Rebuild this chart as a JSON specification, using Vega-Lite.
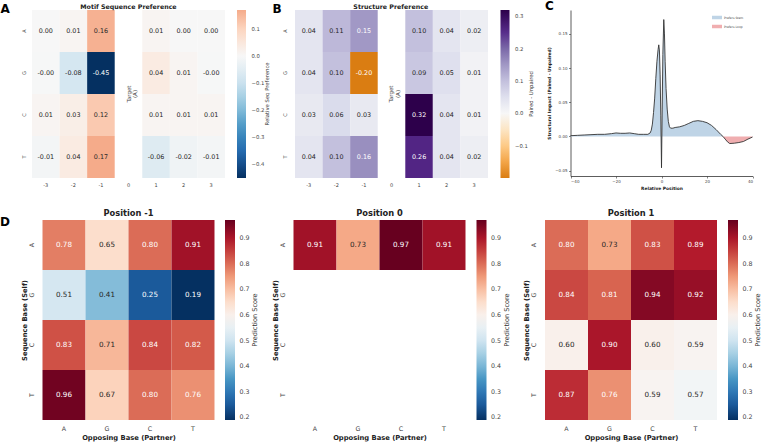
{
  "$schema": "https://vega.github.io/schema/vega-lite/v6.json",
  "background": "white",
  "padding": {"left": 0, "top": 0, "right": 0, "bottom": 0},
  "title": {"text": "D", "orient": "bottom", "anchor": "start", "frame": "bounds", "baseline": "top", "offset": -224, "fontSize": 12, "fontWeight": "bold", "color": "#000"},
  "columns": 3,
  "spacing": {"row": 42, "column": 56.5},
  "bounds": "flush",
  "resolve": {
    "scale": {"x": "independent", "y": "independent", "color": "independent"},
    "legend": {"color": "independent"}
  },
  "datasets": {
    "motif": [
      {"base": "A", "pos": "-3", "v": 0.00, "txt": "0.00"},
      {"base": "A", "pos": "-2", "v": 0.01, "txt": "0.01"},
      {"base": "A", "pos": "-1", "v": 0.16, "txt": "0.16"},
      {"base": "A", "pos": "1", "v": 0.01, "txt": "0.01"},
      {"base": "A", "pos": "2", "v": 0.00, "txt": "0.00"},
      {"base": "A", "pos": "3", "v": 0.00, "txt": "0.00"},
      {"base": "G", "pos": "-3", "v": -0.002, "txt": "-0.00"},
      {"base": "G", "pos": "-2", "v": -0.08, "txt": "-0.08"},
      {"base": "G", "pos": "-1", "v": -0.45, "txt": "-0.45"},
      {"base": "G", "pos": "1", "v": 0.04, "txt": "0.04"},
      {"base": "G", "pos": "2", "v": 0.01, "txt": "0.01"},
      {"base": "G", "pos": "3", "v": -0.002, "txt": "-0.00"},
      {"base": "C", "pos": "-3", "v": 0.01, "txt": "0.01"},
      {"base": "C", "pos": "-2", "v": 0.03, "txt": "0.03"},
      {"base": "C", "pos": "-1", "v": 0.12, "txt": "0.12"},
      {"base": "C", "pos": "1", "v": 0.01, "txt": "0.01"},
      {"base": "C", "pos": "2", "v": 0.01, "txt": "0.01"},
      {"base": "C", "pos": "3", "v": 0.01, "txt": "0.01"},
      {"base": "T", "pos": "-3", "v": -0.01, "txt": "-0.01"},
      {"base": "T", "pos": "-2", "v": 0.04, "txt": "0.04"},
      {"base": "T", "pos": "-1", "v": 0.17, "txt": "0.17"},
      {"base": "T", "pos": "1", "v": -0.06, "txt": "-0.06"},
      {"base": "T", "pos": "2", "v": -0.02, "txt": "-0.02"},
      {"base": "T", "pos": "3", "v": -0.01, "txt": "-0.01"}
    ],
    "structure": [
      {"base": "A", "pos": "-3", "v": 0.04, "txt": "0.04"},
      {"base": "A", "pos": "-2", "v": 0.11, "txt": "0.11"},
      {"base": "A", "pos": "-1", "v": 0.15, "txt": "0.15"},
      {"base": "A", "pos": "1", "v": 0.10, "txt": "0.10"},
      {"base": "A", "pos": "2", "v": 0.04, "txt": "0.04"},
      {"base": "A", "pos": "3", "v": 0.02, "txt": "0.02"},
      {"base": "G", "pos": "-3", "v": 0.04, "txt": "0.04"},
      {"base": "G", "pos": "-2", "v": 0.10, "txt": "0.10"},
      {"base": "G", "pos": "-1", "v": -0.20, "txt": "-0.20"},
      {"base": "G", "pos": "1", "v": 0.09, "txt": "0.09"},
      {"base": "G", "pos": "2", "v": 0.05, "txt": "0.05"},
      {"base": "G", "pos": "3", "v": 0.01, "txt": "0.01"},
      {"base": "C", "pos": "-3", "v": 0.03, "txt": "0.03"},
      {"base": "C", "pos": "-2", "v": 0.06, "txt": "0.06"},
      {"base": "C", "pos": "-1", "v": 0.03, "txt": "0.03"},
      {"base": "C", "pos": "1", "v": 0.32, "txt": "0.32"},
      {"base": "C", "pos": "2", "v": 0.04, "txt": "0.04"},
      {"base": "C", "pos": "3", "v": 0.01, "txt": "0.01"},
      {"base": "T", "pos": "-3", "v": 0.04, "txt": "0.04"},
      {"base": "T", "pos": "-2", "v": 0.10, "txt": "0.10"},
      {"base": "T", "pos": "-1", "v": 0.16, "txt": "0.16"},
      {"base": "T", "pos": "1", "v": 0.26, "txt": "0.26"},
      {"base": "T", "pos": "2", "v": 0.04, "txt": "0.04"},
      {"base": "T", "pos": "3", "v": 0.02, "txt": "0.02"}
    ],
    "impact": [
      {"x": -40, "y": 0.001}, {"x": -37, "y": 0.0015}, {"x": -34, "y": 0.002}, {"x": -31, "y": 0.0025},
      {"x": -28, "y": 0.003}, {"x": -25, "y": 0.003}, {"x": -22, "y": 0.004}, {"x": -20, "y": 0.005},
      {"x": -18, "y": 0.0045}, {"x": -16, "y": 0.0045}, {"x": -14, "y": 0.005}, {"x": -12, "y": 0.004},
      {"x": -10, "y": 0.003}, {"x": -8, "y": 0.003}, {"x": -6, "y": 0.003}, {"x": -5, "y": 0.005},
      {"x": -4.5, "y": 0.009}, {"x": -4, "y": 0.018}, {"x": -3.5, "y": 0.035}, {"x": -3, "y": 0.056},
      {"x": -2.5, "y": 0.085}, {"x": -2, "y": 0.11}, {"x": -1.5, "y": 0.127}, {"x": -1.2, "y": 0.134},
      {"x": -0.9, "y": 0.125}, {"x": -0.6, "y": 0.09}, {"x": -0.3, "y": 0.03}, {"x": 0, "y": -0.046},
      {"x": 0.3, "y": 0.04}, {"x": 0.6, "y": 0.12}, {"x": 1, "y": 0.171}, {"x": 1.3, "y": 0.15},
      {"x": 1.6, "y": 0.11}, {"x": 2, "y": 0.07}, {"x": 2.5, "y": 0.04}, {"x": 3, "y": 0.022},
      {"x": 3.5, "y": 0.014}, {"x": 4, "y": 0.012}, {"x": 5, "y": 0.012}, {"x": 6, "y": 0.013},
      {"x": 8, "y": 0.014}, {"x": 10, "y": 0.016}, {"x": 12, "y": 0.019}, {"x": 14, "y": 0.022},
      {"x": 16, "y": 0.023}, {"x": 18, "y": 0.022}, {"x": 20, "y": 0.02}, {"x": 22, "y": 0.016},
      {"x": 24, "y": 0.01}, {"x": 26, "y": 0.003}, {"x": 27, "y": 0.0}, {"x": 28, "y": -0.004},
      {"x": 29, "y": -0.008}, {"x": 30, "y": -0.0105}, {"x": 32, "y": -0.01}, {"x": 34, "y": -0.009},
      {"x": 36, "y": -0.0075}, {"x": 38, "y": -0.004}, {"x": 40, "y": -0.001}
    ],
    "pos_m1": [
      {"self": "A", "partner": "A", "v": 0.78}, {"self": "A", "partner": "G", "v": 0.65},
      {"self": "A", "partner": "C", "v": 0.80}, {"self": "A", "partner": "T", "v": 0.91},
      {"self": "G", "partner": "A", "v": 0.51}, {"self": "G", "partner": "G", "v": 0.41},
      {"self": "G", "partner": "C", "v": 0.25}, {"self": "G", "partner": "T", "v": 0.19},
      {"self": "C", "partner": "A", "v": 0.83}, {"self": "C", "partner": "G", "v": 0.71},
      {"self": "C", "partner": "C", "v": 0.84}, {"self": "C", "partner": "T", "v": 0.82},
      {"self": "T", "partner": "A", "v": 0.96}, {"self": "T", "partner": "G", "v": 0.67},
      {"self": "T", "partner": "C", "v": 0.80}, {"self": "T", "partner": "T", "v": 0.76}
    ],
    "pos_0": [
      {"self": "A", "partner": "A", "v": 0.91}, {"self": "A", "partner": "G", "v": 0.73},
      {"self": "A", "partner": "C", "v": 0.97}, {"self": "A", "partner": "T", "v": 0.91}
    ],
    "pos_p1": [
      {"self": "A", "partner": "A", "v": 0.80}, {"self": "A", "partner": "G", "v": 0.73},
      {"self": "A", "partner": "C", "v": 0.83}, {"self": "A", "partner": "T", "v": 0.89},
      {"self": "G", "partner": "A", "v": 0.84}, {"self": "G", "partner": "G", "v": 0.81},
      {"self": "G", "partner": "C", "v": 0.94}, {"self": "G", "partner": "T", "v": 0.92},
      {"self": "C", "partner": "A", "v": 0.60}, {"self": "C", "partner": "G", "v": 0.90},
      {"self": "C", "partner": "C", "v": 0.60}, {"self": "C", "partner": "T", "v": 0.59},
      {"self": "T", "partner": "A", "v": 0.87}, {"self": "T", "partner": "G", "v": 0.76},
      {"self": "T", "partner": "C", "v": 0.59}, {"self": "T", "partner": "T", "v": 0.57}
    ]
  },
  "concat": [
    {
      "width": 205,
      "height": 168,
      "title": {"text": "Motif Sequence Preference", "fontSize": 6.3, "offset": -8.2, "dx": -6},
      "data": {"name": "motif"},
      "layer": [
        {
          "mark": {"type": "rect"},
          "encoding": {
            "x": {"field": "pos", "type": "ordinal", "scale": {"domain": ["-3", "-2", "-1", "0", "1", "2", "3"], "paddingInner": 0, "paddingOuter": 0.2176, "align": 0},
                  "axis": {"labelAngle": 0, "labelFontSize": 5, "labelPadding": 4, "title": null}},
            "y": {"field": "base", "type": "ordinal", "scale": {"domain": ["A", "G", "C", "T"], "paddingInner": 0, "paddingOuter": 0},
                  "axis": {"labelAngle": 270, "labelAlign": "center", "labelBaseline": "alphabetic", "labelPadding": 7, "labelFontSize": 5,
                           "title": "A", "titleAngle": 0, "titleX": -32, "titleY": -7, "titleAlign": "left", "titleBaseline": "top", "titleFontSize": 12, "titleFontWeight": "bold", "titleColor": "#000"}},
            "color": {"field": "v", "type": "quantitative",
                      "scale": {"type": "linear", "domain": [-0.45, -0.36, -0.27, -0.18, -0.09, 0, 0.09, 0.17],
                                "range": ["#053061", "#2166ac", "#4393c3", "#92c5de", "#d1e5f0", "#f7f7f7", "#fddbc7", "#f5ab8a"],
                                "interpolate": "rgb", "clamp": true, "nice": false, "zero": false},
                      "legend": {"orient": "right", "offset": 0, "direction": "vertical", "gradientLength": 168, "gradientThickness": 9,
                                 "values": [-0.4, -0.3, -0.2, -0.1, 0, 0.1], "format": ".1f", "labelFontSize": 5.3, "labelOffset": 5.5,
                                 "title": "Relative Seq Preference", "titleOrient": "right", "titleFontSize": 5.3, "titlePadding": 1, "titleAnchor": "middle",
                                 "encode": {"title": {"update": {"angle": {"value": 270}, "baseline": {"value": "top"}}}}}}
          }
        },
        {
          "mark": {"type": "text", "fontSize": 6.4},
          "encoding": {
            "x": {"field": "pos", "type": "ordinal"},
            "y": {"field": "base", "type": "ordinal"},
            "text": {"field": "txt"},
            "color": {"condition": {"test": "datum.v <= -0.3", "value": "#ffffff"}, "value": "#262626"}
          }
        },
        {
          "data": {"values": [{"pos": "0", "base": "G", "label": "Target\n(A)"}]},
          "mark": {"type": "text", "angle": 270, "fontSize": 5.5, "lineBreak": "\n", "lineHeight": 6.2, "color": "#444"},
          "encoding": {
            "x": {"field": "pos", "type": "ordinal"},
            "y": {"field": "base", "type": "ordinal", "bandPosition": 1},
            "text": {"field": "label"}
          }
        }
      ]
    },
    {
      "width": 194.5,
      "height": 168,
      "title": {"text": "Structure Preference", "fontSize": 6.3, "offset": -8.2},
      "data": {"name": "structure"},
      "layer": [
        {
          "mark": {"type": "rect"},
          "encoding": {
            "x": {"field": "pos", "type": "ordinal", "scale": {"domain": ["-3", "-2", "-1", "0", "1", "2", "3"], "paddingInner": 0, "paddingOuter": 0.0272, "align": 1},
                  "axis": {"labelAngle": 0, "labelFontSize": 5, "labelPadding": 4, "title": null}},
            "y": {"field": "base", "type": "ordinal", "scale": {"domain": ["A", "G", "C", "T"], "paddingInner": 0, "paddingOuter": 0},
                  "axis": {"labelAngle": 270, "labelAlign": "center", "labelBaseline": "alphabetic", "labelPadding": 7, "labelFontSize": 5,
                           "title": "B", "titleAngle": 0, "titleX": -21.5, "titleY": -7, "titleAlign": "left", "titleBaseline": "top", "titleFontSize": 12, "titleFontWeight": "bold", "titleColor": "#000"}},
            "color": {"field": "v", "type": "quantitative",
                      "scale": {"type": "linear", "domain": [-0.2, -0.192, -0.128, -0.064, 0, 0.064, 0.128, 0.192, 0.256, 0.32],
                                "range": ["#da7d12", "#e08214", "#fdb863", "#fee0b6", "#f7f7f7", "#d8daeb", "#b2abd2", "#8073ac", "#542788", "#2d004b"],
                                "interpolate": "rgb", "clamp": true, "nice": false, "zero": false},
                      "legend": {"orient": "right", "offset": 12, "direction": "vertical", "gradientLength": 168, "gradientThickness": 9,
                                 "values": [-0.1, 0, 0.1, 0.2, 0.3], "format": ".1f", "labelFontSize": 5.3, "labelOffset": 5.5,
                                 "title": "Paired - Unpaired", "titleOrient": "right", "titleFontSize": 5.3, "titlePadding": 1, "titleAnchor": "middle",
                                 "encode": {"title": {"update": {"angle": {"value": 270}, "baseline": {"value": "top"}}}}}}
          }
        },
        {
          "mark": {"type": "text", "fontSize": 6.4},
          "encoding": {
            "x": {"field": "pos", "type": "ordinal"},
            "y": {"field": "base", "type": "ordinal"},
            "text": {"field": "txt"},
            "color": {"condition": {"test": "datum.v >= 0.13 || datum.v <= -0.13", "value": "#ffffff"}, "value": "#262626"}
          }
        },
        {
          "data": {"values": [{"pos": "0", "base": "G", "label": "Target\n(A)"}]},
          "mark": {"type": "text", "angle": 270, "fontSize": 5.5, "lineBreak": "\n", "lineHeight": 6.2, "color": "#444"},
          "encoding": {
            "x": {"field": "pos", "type": "ordinal"},
            "y": {"field": "base", "type": "ordinal", "bandPosition": 1},
            "text": {"field": "label"}
          }
        }
      ]
    },
    {
      "width": 207.5,
      "height": 166,
      "title": {"text": "C", "anchor": "start", "frame": "group", "offset": -3, "baseline": "top", "fontSize": 12, "fontWeight": "bold", "color": "#000"},
      "data": {"name": "impact"},
      "layer": [
        {
          "transform": [{"filter": "datum.x <= 27"}],
          "mark": {"type": "area", "opacity": 1},
          "encoding": {
            "x": {"field": "x", "type": "quantitative", "scale": {"domain": [-40, 40], "range": [25.5, 207.5], "nice": false, "zero": false},
                  "axis": {"values": [-40, -30, -20, -10, 0, 10, 20, 30, 40], "format": "d", "labelFontSize": 4, "labelPadding": 1.5,
                           "domain": true, "domainColor": "#333", "domainWidth": 0.8, "ticks": true, "tickSize": 2, "tickColor": "#333", "tickWidth": 0.6,
                           "title": "Relative Position", "titleFontSize": 4.4, "titleFontWeight": "bold", "titlePadding": 3}},
            "y": {"field": "y", "type": "quantitative", "scale": {"domain": [-0.058, 0.185], "nice": false, "zero": false},
                  "axis": {"values": [-0.05, 0, 0.05, 0.1, 0.15], "format": ".2f", "offset": -25.5, "labelFontSize": 4, "labelPadding": 1.5,
                           "domain": true, "domainColor": "#333", "domainWidth": 0.8, "ticks": true, "tickSize": 2, "tickColor": "#333", "tickWidth": 0.6,
                           "title": "Structural Impact (Paired - Unpaired)", "titleFontSize": 4.4, "titleFontWeight": "bold", "titlePadding": 3}},
            "y2": {"datum": 0},
            "color": {"datum": "Prefers Stem", "type": "nominal",
                      "scale": {"domain": ["Prefers Stem", "Prefers Loop"], "range": ["#bfd4e6", "#f0aeb0"]},
                      "legend": {"orient": "none", "legendX": 167, "legendY": 2.5, "title": null, "symbolType": "M-1,-0.35L1,-0.35L1,0.35L-1,0.35Z",
                                 "symbolSize": 100, "symbolStrokeWidth": 0, "symbolOpacity": 1, "labelFontSize": 3, "labelOffset": 2, "rowPadding": 2}}
          }
        },
        {
          "transform": [{"filter": "datum.x >= 27"}],
          "mark": {"type": "area", "opacity": 1},
          "encoding": {
            "x": {"field": "x", "type": "quantitative"},
            "y": {"field": "y", "type": "quantitative"},
            "y2": {"datum": 0},
            "color": {"datum": "Prefers Loop", "type": "nominal"}
          }
        },
        {
          "mark": {"type": "line", "color": "#333", "strokeWidth": 0.9},
          "encoding": {
            "x": {"field": "x", "type": "quantitative"},
            "y": {"field": "y", "type": "quantitative"}
          }
        }
      ]
    },
    {
      "width": 193,
      "height": 200,
      "title": {"text": "Position -1", "fontSize": 8.3, "offset": 2.7},
      "data": {"name": "pos_m1"},
      "layer": [
        {
          "mark": {"type": "rect"},
          "encoding": {
            "x": {"field": "partner", "type": "ordinal", "scale": {"domain": ["A", "G", "C", "T"], "paddingInner": 0, "paddingOuter": 0.2442},
                  "axis": {"labelAngle": 0, "labelFontSize": 6.3, "labelPadding": 5, "title": "Opposing Base (Partner)", "titleFontSize": 6.75, "titleFontWeight": "bold", "titlePadding": 3}},
            "y": {"field": "self", "type": "ordinal", "scale": {"domain": ["A", "G", "C", "T"], "paddingInner": 0, "paddingOuter": 0},
                  "axis": {"offset": -10.5, "labelAngle": 270, "labelAlign": "center", "labelBaseline": "alphabetic", "labelPadding": 9.2, "labelFontSize": 6.3,
                           "title": "Sequence Base (Self)", "titleFontSize": 6.75, "titleFontWeight": "bold", "titlePadding": 1}},
            "color": {"field": "v", "type": "quantitative",
                      "scale": {"type": "linear", "domain": [0.19, 0.268, 0.346, 0.424, 0.502, 0.58, 0.658, 0.736, 0.814, 0.892, 0.97],
                                "range": ["#053061", "#2166ac", "#4393c3", "#92c5de", "#d1e5f0", "#f7f7f7", "#fddbc7", "#f4a582", "#d6604d", "#b2182b", "#67001f"],
                                "interpolate": "rgb", "clamp": true, "nice": false, "zero": false},
                      "legend": {"orient": "right", "offset": 0, "direction": "vertical", "gradientLength": 200, "gradientThickness": 10,
                                 "values": [0.2, 0.3, 0.4, 0.5, 0.6, 0.7, 0.8, 0.9], "format": ".1f", "labelFontSize": 6.3, "labelOffset": 4.5,
                                 "title": "Prediction Score", "titleOrient": "right", "titleFontSize": 6.6, "titlePadding": 2, "titleAnchor": "middle",
                                 "encode": {"title": {"update": {"angle": {"value": 270}, "baseline": {"value": "top"}}}}}}
          }
        },
        {
          "mark": {"type": "text", "fontSize": 7.2},
          "encoding": {
            "x": {"field": "partner", "type": "ordinal"},
            "y": {"field": "self", "type": "ordinal"},
            "text": {"field": "v", "type": "quantitative", "format": ".2f"},
            "color": {"condition": {"test": "datum.v >= 0.74 || datum.v <= 0.33", "value": "#ffffff"}, "value": "#262626"}
          }
        }
      ]
    },
    {
      "width": 172,
      "height": 200,
      "title": {"text": "Position 0", "fontSize": 8.3, "offset": 2.7},
      "data": {"name": "pos_0"},
      "layer": [
        {
          "mark": {"type": "rect"},
          "encoding": {
            "x": {"field": "partner", "type": "ordinal", "scale": {"domain": ["A", "G", "C", "T"], "paddingInner": 0, "paddingOuter": 0},
                  "axis": {"labelAngle": 0, "labelFontSize": 6.3, "labelPadding": 5, "title": "Opposing Base (Partner)", "titleFontSize": 6.75, "titleFontWeight": "bold", "titlePadding": 3}},
            "y": {"field": "self", "type": "ordinal", "scale": {"domain": ["A", "G", "C", "T"], "paddingInner": 0, "paddingOuter": 0},
                  "axis": {"labelAngle": 270, "labelAlign": "center", "labelBaseline": "alphabetic", "labelPadding": 9.2, "labelFontSize": 6.3,
                           "title": "Sequence Base (Self)", "titleFontSize": 6.75, "titleFontWeight": "bold", "titlePadding": 1}},
            "color": {"field": "v", "type": "quantitative",
                      "scale": {"type": "linear", "domain": [0.19, 0.268, 0.346, 0.424, 0.502, 0.58, 0.658, 0.736, 0.814, 0.892, 0.97],
                                "range": ["#053061", "#2166ac", "#4393c3", "#92c5de", "#d1e5f0", "#f7f7f7", "#fddbc7", "#f4a582", "#d6604d", "#b2182b", "#67001f"],
                                "interpolate": "rgb", "clamp": true, "nice": false, "zero": false},
                      "legend": {"orient": "right", "offset": 11, "direction": "vertical", "gradientLength": 200, "gradientThickness": 10,
                                 "values": [0.2, 0.3, 0.4, 0.5, 0.6, 0.7, 0.8, 0.9], "format": ".1f", "labelFontSize": 6.3, "labelOffset": 4.5,
                                 "title": "Prediction Score", "titleOrient": "right", "titleFontSize": 6.6, "titlePadding": 2, "titleAnchor": "middle",
                                 "encode": {"title": {"update": {"angle": {"value": 270}, "baseline": {"value": "top"}}}}}}
          }
        },
        {
          "mark": {"type": "text", "fontSize": 7.2},
          "encoding": {
            "x": {"field": "partner", "type": "ordinal"},
            "y": {"field": "self", "type": "ordinal"},
            "text": {"field": "v", "type": "quantitative", "format": ".2f"},
            "color": {"condition": {"test": "datum.v >= 0.74 || datum.v <= 0.33", "value": "#ffffff"}, "value": "#262626"}
          }
        }
      ]
    },
    {
      "width": 172,
      "height": 200,
      "title": {"text": "Position 1", "fontSize": 8.3, "offset": 2.7},
      "data": {"name": "pos_p1"},
      "layer": [
        {
          "mark": {"type": "rect"},
          "encoding": {
            "x": {"field": "partner", "type": "ordinal", "scale": {"domain": ["A", "G", "C", "T"], "paddingInner": 0, "paddingOuter": 0},
                  "axis": {"labelAngle": 0, "labelFontSize": 6.3, "labelPadding": 5, "title": "Opposing Base (Partner)", "titleFontSize": 6.75, "titleFontWeight": "bold", "titlePadding": 3}},
            "y": {"field": "self", "type": "ordinal", "scale": {"domain": ["A", "G", "C", "T"], "paddingInner": 0, "paddingOuter": 0},
                  "axis": {"labelAngle": 270, "labelAlign": "center", "labelBaseline": "alphabetic", "labelPadding": 9.2, "labelFontSize": 6.3,
                           "title": "Sequence Base (Self)", "titleFontSize": 6.75, "titleFontWeight": "bold", "titlePadding": 1}},
            "color": {"field": "v", "type": "quantitative",
                      "scale": {"type": "linear", "domain": [0.19, 0.268, 0.346, 0.424, 0.502, 0.58, 0.658, 0.736, 0.814, 0.892, 0.97],
                                "range": ["#053061", "#2166ac", "#4393c3", "#92c5de", "#d1e5f0", "#f7f7f7", "#fddbc7", "#f4a582", "#d6604d", "#b2182b", "#67001f"],
                                "interpolate": "rgb", "clamp": true, "nice": false, "zero": false},
                      "legend": {"orient": "right", "offset": 11, "direction": "vertical", "gradientLength": 200, "gradientThickness": 10,
                                 "values": [0.2, 0.3, 0.4, 0.5, 0.6, 0.7, 0.8, 0.9], "format": ".1f", "labelFontSize": 6.3, "labelOffset": 4.5,
                                 "title": "Prediction Score", "titleOrient": "right", "titleFontSize": 6.6, "titlePadding": 2, "titleAnchor": "middle",
                                 "encode": {"title": {"update": {"angle": {"value": 270}, "baseline": {"value": "top"}}}}}}
          }
        },
        {
          "mark": {"type": "text", "fontSize": 7.2},
          "encoding": {
            "x": {"field": "partner", "type": "ordinal"},
            "y": {"field": "self", "type": "ordinal"},
            "text": {"field": "v", "type": "quantitative", "format": ".2f"},
            "color": {"condition": {"test": "datum.v >= 0.74 || datum.v <= 0.33", "value": "#ffffff"}, "value": "#262626"}
          }
        }
      ]
    }
  ],
  "config": {
    "font": "DejaVu Sans",
    "view": {"stroke": null},
    "axis": {"domain": false, "ticks": false, "tickSize": 0, "grid": false, "labelColor": "#444", "titleColor": "#222", "labelFont": "DejaVu Sans", "titleFont": "DejaVu Sans"},
    "legend": {"labelColor": "#444", "titleColor": "#333", "labelOverlap": false, "titleFontWeight": "normal", "gradientStrokeWidth": 0, "padding": 0, "labelFont": "DejaVu Sans", "titleFont": "DejaVu Sans"},
    "title": {"color": "#222", "fontWeight": "bold", "font": "DejaVu Sans"},
    "text": {"font": "DejaVu Sans"}
  }
}
